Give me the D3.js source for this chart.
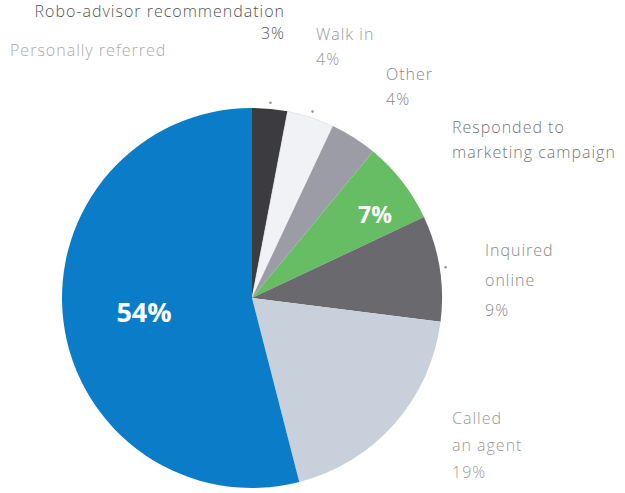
<!DOCTYPE html>
<html>
<head>
<meta charset="utf-8">
<script src="https://cdn.jsdelivr.net/npm/d3@7"></script>
<style>
  body { margin: 0; background: #fff; }
  text { font-family: "Open Sans", "DejaVu Sans", sans-serif; }
</style>
</head>
<body>
<script>
// Pie slices, clockwise from 12 o'clock
const categories = ["Robo-advisor recommendation", "Walk in", "Other", "Responded to marketing campaign", "Inquired online", "Called an agent", "Personally referred"];
const values = [3, 4, 4, 7, 9, 19, 54];
const colors = ["#3b3b40", "#f1f2f5", "#9c9ca6", "#66bd63", "#69696e", "#c8d0db", "#0a7cc8"];

// Outside labels: lines of text per slice
const labelLines = [
    ["Robo-advisor recommendation", "3%"],
    ["Walk in", "4%"],
    ["Other", "4%"],
    ["Responded to", "marketing campaign"],
    ["Inquired", "online", "9%"],
    ["Called", "an agent", "19%"],
    ["Personally referred"]
];

const width = 625;
const height = 493;
const cx = 252, cy = 298, radius = 190;

const svg = d3.select('body').append('svg')
    .attr('width', width)
    .attr('height', height);

const pie = d3.pie().sort(null).value(d => d);
const arcs = pie(values);
const arc = d3.arc().innerRadius(0).outerRadius(radius);

const g = svg.append('g').attr('transform', `translate(${cx},${cy})`);

g.selectAll('path')
    .data(arcs)
    .enter().append('path')
    .attr('d', arc)
    .attr('fill', (d, i) => colors[i])
    .attr('stroke', (d, i) => i === 1 ? '#dcdde2' : 'none')
    .attr('stroke-width', 0.6);

// small marker dots just outside a few slices
const dotArc = d3.arc().innerRadius(radius + 6).outerRadius(radius + 6);
g.selectAll('circle.dot')
    .data(arcs.filter((d, i) => i === 0 || i === 1 || i === 4))
    .enter().append('circle')
    .attr('class', 'dot')
    .attr('cx', d => dotArc.centroid(d)[0])
    .attr('cy', d => dotArc.centroid(d)[1])
    .attr('r', 1.3)
    .attr('fill', '#999');

// inside labels
g.append('text')
    .attr('x', -108).attr('y', 24)
    .attr('text-anchor', 'middle')
    .attr('fill', '#fff')
    .attr('font-size', 27)
    .attr('font-weight', 'bold')
    .text(values[6] + '%');

g.append('text')
    .attr('x', 123).attr('y', -75)
    .attr('text-anchor', 'middle')
    .attr('fill', '#fff')
    .attr('font-size', 23)
    .attr('font-weight', 'bold')
    .text(values[3] + '%');

// outside label placement (absolute page coords)
const labelPos = [
    { x: 285, y: 17, anchor: 'end', gap: 22, color: '#555' },
    { x: 316, y: 40, anchor: 'start', gap: 25, color: '#999' },
    { x: 386, y: 80, anchor: 'start', gap: 25, color: '#888' },
    { x: 452, y: 133, anchor: 'start', gap: 25, color: '#777' },
    { x: 485, y: 256, anchor: 'start', gap: 30, color: '#888' },
    { x: 452, y: 424, anchor: 'start', gap: 27, color: '#999' },
    { x: 10, y: 56, anchor: 'start', gap: 20, color: '#aaa' }
];

const labels = svg.append('g').attr('class', 'labels');
labelLines.forEach((lines, i) => {
    const p = labelPos[i];
    const t = labels.append('text')
        .attr('text-anchor', p.anchor)
        .attr('fill', p.color)
        .attr('font-size', 16)
        .attr('letter-spacing', 1)
        .attr('font-weight', 300);
    lines.forEach((line, j) => {
        t.append('tspan')
            .attr('x', p.x)
            .attr('y', p.y + j * p.gap)
            .text(line);
    });
});
</script>
</body>
</html>
